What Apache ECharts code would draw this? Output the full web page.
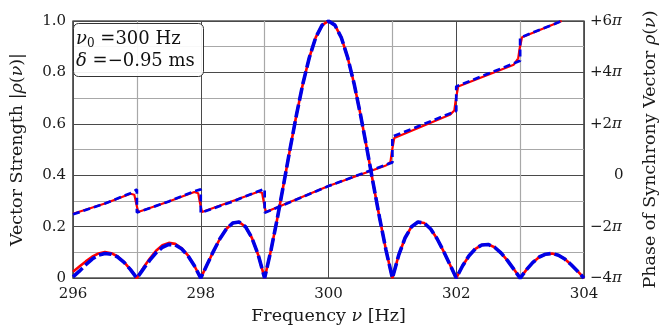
<!DOCTYPE html>
<html>
<head>
<meta charset="utf-8">
<script src="https://cdn.jsdelivr.net/npm/echarts@6/dist/echarts.min.js"></script>
<style>
  html, body { margin: 0; padding: 0; background: #fff; }
  #chart { width: 667px; height: 330px; }
</style>
</head>
<body>
<div id="chart"></div>
<script>
// Frequency grid (Hz) shared by both vector-strength curves
const freq = [
  296.0, 296.1, 296.2, 296.3, 296.4, 296.5, 296.6, 296.7, 296.8, 296.9,
  297.0, 297.1, 297.2, 297.3, 297.4, 297.5, 297.6, 297.7, 297.8, 297.9,
  298.0, 298.1, 298.2, 298.3, 298.4, 298.5, 298.6, 298.7, 298.8, 298.9,
  299.0, 299.1, 299.2, 299.3, 299.4, 299.5, 299.6, 299.7, 299.8, 299.9,
  300.0, 300.1, 300.2, 300.3, 300.4, 300.5, 300.6, 300.7, 300.8, 300.9,
  301.0, 301.1, 301.2, 301.3, 301.4, 301.5, 301.6, 301.7, 301.8, 301.9,
  302.0, 302.1, 302.2, 302.3, 302.4, 302.5, 302.6, 302.7, 302.8, 302.9,
  303.0, 303.1, 303.2, 303.3, 303.4, 303.5, 303.6, 303.7, 303.8, 303.9,
  304.0
];

// Vector strength |rho(nu)|, analytic curve (red, solid)
const strengthTheory = [
  0.025, 0.045, 0.065, 0.083, 0.096, 0.101, 0.097, 0.084, 0.062, 0.033,
  0.000, 0.040, 0.075, 0.106, 0.128, 0.137, 0.133, 0.116, 0.088, 0.048,
  0.000, 0.053, 0.105, 0.153, 0.191, 0.214, 0.218, 0.200, 0.157, 0.090,
  0.000, 0.109, 0.234, 0.368, 0.505, 0.637, 0.757, 0.858, 0.936, 0.984,
  1.000, 0.984, 0.936, 0.858, 0.757, 0.637, 0.505, 0.368, 0.234, 0.109,
  0.000, 0.090, 0.157, 0.200, 0.218, 0.214, 0.191, 0.153, 0.105, 0.053,
  0.000, 0.048, 0.087, 0.114, 0.129, 0.131, 0.120, 0.098, 0.069, 0.035,
  0.000, 0.033, 0.061, 0.082, 0.093, 0.096, 0.089, 0.074, 0.052, 0.027,
  0.000
];

// Vector strength |rho(nu)|, simulated spike train (blue, dashed)
const strengthSim = [
  0.005, 0.027, 0.052, 0.074, 0.089, 0.096, 0.093, 0.082, 0.061, 0.033,
  0.000, 0.035, 0.069, 0.098, 0.120, 0.131, 0.129, 0.114, 0.087, 0.048,
  0.000, 0.053, 0.105, 0.153, 0.191, 0.214, 0.218, 0.200, 0.157, 0.090,
  0.000, 0.109, 0.234, 0.368, 0.505, 0.637, 0.757, 0.858, 0.936, 0.984,
  1.000, 0.984, 0.936, 0.858, 0.757, 0.637, 0.505, 0.368, 0.234, 0.109,
  0.000, 0.090, 0.157, 0.200, 0.218, 0.214, 0.191, 0.153, 0.105, 0.053,
  0.000, 0.048, 0.087, 0.114, 0.129, 0.131, 0.120, 0.098, 0.069, 0.035,
  0.000, 0.033, 0.061, 0.082, 0.093, 0.096, 0.089, 0.074, 0.052, 0.027,
  0.000
];

// Phase of the synchrony vector, in units of pi: [frequency, phase/pi]
const phaseTheory = [
  [296.0, -1.50], [296.5, -1.10], [296.9, -0.72], [296.96, -0.76], [296.99, -1.10], [297.02, -1.43],
  [297.5, -1.02], [297.9, -0.65], [297.96, -0.70], [297.99, -1.10], [298.02, -1.43],
  [298.5, -1.00], [298.9, -0.64], [298.96, -0.68], [298.99, -1.10], [299.02, -1.43],
  [300.0, -0.42], [300.9, 0.38], [300.97, 0.52], [300.99, 0.90], [301.03, 1.45],
  [301.9, 2.35], [301.97, 2.52], [301.99, 2.90], [302.03, 3.45],
  [302.9, 4.30], [302.97, 4.55], [302.99, 4.90], [303.03, 5.37],
  [303.65, 6.00]
];

const phaseSim = [
  [296.0, -1.52], [296.5, -1.10], [296.9, -0.70], [297.0, -0.55], [297.0, -1.45],
  [297.5, -1.02], [297.9, -0.62], [298.0, -0.55], [298.0, -1.46],
  [298.5, -1.02], [298.9, -0.62], [299.0, -0.53], [299.0, -1.46],
  [300.0, -0.42], [301.0, 0.50], [301.0, 1.50],
  [302.0, 2.50], [302.0, 3.45],
  [303.0, 4.45], [303.0, 5.35],
  [303.65, 6.00]
];

// Tick labels
const strengthTicks = { 0: '0', 0.2: '0.2', 0.4: '0.4', 0.6: '0.6', 0.8: '0.8', 1: '1.0' };
const phaseTicks = { '-4': '\u22124', '-2': '\u22122', '0': '0', '2': '+2', '4': '+4', '6': '+6' };

const FONT = 'DejaVu Serif';
const INK = '#1a1a1a';
const RED = '#ff0000';
const BLUE = '#0000e6';

const chart = echarts.init(document.getElementById('chart'), null, { renderer: 'canvas' });

const majorGrid = { show: true, lineStyle: { color: '#4a4a4a', width: 1 } };
const minorGrid = { show: true, lineStyle: { color: '#a8a8a8', width: 1.2 } };

const titleRich = {
  n: { fontFamily: FONT, fontSize: 17.5, color: INK },
  i: { fontFamily: FONT, fontSize: 17.5, color: INK, fontStyle: 'italic' }
};

chart.setOption({
  animation: false,
  backgroundColor: '#fff',
  grid: {
    left: 69, right: 70, top: 21, bottom: 45,
    show: true, borderColor: '#000', borderWidth: 1.2, backgroundColor: 'transparent'
  },
  xAxis: {
    type: 'value', min: 296, max: 304, interval: 2,
    axisLine: { show: false }, axisTick: { show: false },
    minorTick: { show: false, splitNumber: 2 },
    splitLine: majorGrid, minorSplitLine: minorGrid,
    axisLabel: { color: INK, fontFamily: FONT, fontSize: 15, margin: 9 },
    name: '{n|Frequency }{i|\u03bd}{n| [Hz]}',
    nameLocation: 'middle', nameGap: 26,
    nameTextStyle: { rich: titleRich }
  },
  yAxis: [
    {
      type: 'value', min: 0, max: 1, interval: 0.2,
      axisLine: { show: false }, axisTick: { show: false },
      minorTick: { show: false, splitNumber: 2 },
      splitLine: majorGrid, minorSplitLine: minorGrid,
      axisLabel: {
        color: INK, fontFamily: FONT, fontSize: 15, margin: 7,
        formatter: v => strengthTicks[Math.round(v * 10) / 10] ?? ''
      },
      name: '{n|Vector Strength |}{i|\u03c1}{n|(}{i|\u03bd}{n|)|}',
      nameLocation: 'middle', nameGap: 47, nameRotate: 90,
      nameTextStyle: { rich: titleRich }
    },
    {
      type: 'value', min: -4, max: 6, interval: 2, position: 'right',
      axisLine: { show: false }, axisTick: { show: false },
      splitLine: { show: false },
      axisLabel: {
        color: INK, fontFamily: FONT, fontSize: 15, margin: 6,
        formatter: v => {
          const s = phaseTicks[String(Math.round(v))];
          if (s === undefined) return '';
          return s === '0' ? '{z|0}' : '{n|' + s + '}{i|\u03c0}';
        },
        rich: {
          n: { fontFamily: FONT, fontSize: 15, color: INK },
          i: { fontFamily: FONT, fontSize: 15, color: INK, fontStyle: 'italic' },
          z: { fontFamily: FONT, fontSize: 15, color: INK, padding: [0, 0, 0, 24] }
        }
      },
      name: '{n|Phase of Synchrony Vector }{i|\u03c1}{n|(}{i|\u03bd}{n|)}',
      nameLocation: 'middle', nameGap: 57, nameRotate: 90,
      nameTextStyle: { rich: titleRich }
    }
  ],
  series: [
    {
      name: 'phase (theory)', type: 'line', yAxisIndex: 1, data: phaseTheory,
      showSymbol: false, lineStyle: { color: RED, width: 2.2 }, z: 2
    },
    {
      name: 'phase (simulation)', type: 'line', yAxisIndex: 1, data: phaseSim,
      showSymbol: false, lineStyle: { color: BLUE, width: 2.7, type: [7, 4] }, z: 3
    },
    {
      name: 'strength (theory)', type: 'line', yAxisIndex: 0,
      data: freq.map((f, i) => [f, strengthTheory[i]]),
      showSymbol: false, lineStyle: { color: RED, width: 2.6 }, z: 4
    },
    {
      name: 'strength (simulation)', type: 'line', yAxisIndex: 0,
      data: freq.map((f, i) => [f, strengthSim[i]]),
      showSymbol: false, lineStyle: { color: BLUE, width: 3.6, type: [13, 4] }, z: 5
    }
  ],
  graphic: [
    {
      type: 'rect', left: 73, top: 23, z: 10,
      shape: { width: 130, height: 53, r: 5 },
      style: { fill: 'rgba(255,255,255,0.92)', stroke: '#333', lineWidth: 1 }
    },
    {
      type: 'text', left: 76, top: 28, z: 11,
      style: {
        text: '{i|\u03bd}{s|0}{n| =300 Hz}',
        rich: {
          n: { fontFamily: FONT, fontSize: 18, fill: '#111', lineHeight: 22 },
          i: { fontFamily: FONT, fontSize: 18, fill: '#111', fontStyle: 'italic', lineHeight: 22 },
          s: { fontFamily: FONT, fontSize: 12, fill: '#111', verticalAlign: 'bottom', lineHeight: 22, padding: [10, 0, 0, 0] }
        }
      }
    },
    {
      type: 'text', left: 76, top: 52, z: 11,
      style: {
        text: '{i|\u03b4}{n| =\u22120.95 ms}',
        rich: {
          n: { fontFamily: FONT, fontSize: 18, fill: '#111', lineHeight: 22 },
          i: { fontFamily: FONT, fontSize: 18, fill: '#111', fontStyle: 'italic', lineHeight: 22 }
        }
      }
    }
  ]
});
</script>
</body>
</html>
